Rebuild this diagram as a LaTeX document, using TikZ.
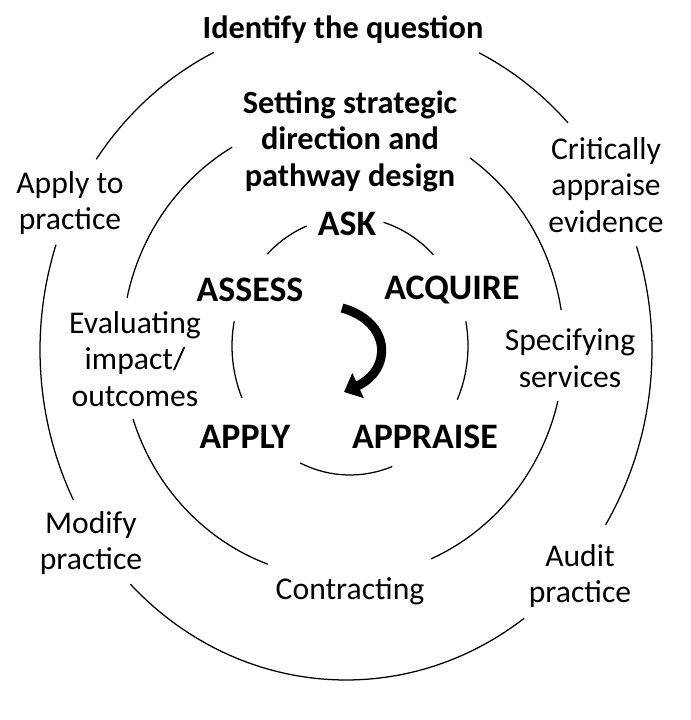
\documentclass[tikz,border=0pt]{standalone}
\usepackage{fontspec}
\setmainfont{Carlito}
\usetikzlibrary{positioning,arrows.meta,calc}
\tikzset{>=Stealth}
\tikzset{
  ring/.style={line width=0.9pt},
  lbl/.style={align=center,font=\fontsize{22.5}{26}\selectfont},
  toplbl/.style={align=center,font=\fontsize{23}{26}\selectfont\bfseries},
  stage/.style={font=\fontsize{25.5}{28}\selectfont\bfseries},
}
\begin{document}
\begin{tikzpicture}[x=0.025cm,y=-0.025cm]
\useasboundingbox (0,0) rectangle (690,720);
% outer ring
\coordinate (oc) at (346,350);
\foreach \a/\b in {115.6/144.7, 161.4/207, 225.2/305.6, 328/378.3, 43.5/64.2}
  \draw[ring] ($(oc)+({306*cos(\a)},{-330*sin(\a)})$) arc[start angle=\a,end angle=\b,x radius=306,y radius=-330];
% middle ring
\coordinate (mc) at (343,347);
\foreach \a/\b in {120.1/167.7, 198.2/250.1, 293.5/346.4, 9.2/54.9}
  \draw[ring] ($(mc)+({221*cos(\a)},{-231*sin(\a)})$) arc[start angle=\a,end angle=\b,x radius=221,y radius=-231];
% inner ring
\coordinate (ic) at (350,346);
\foreach \a/\b in {111.6/134.6, 45/73.5, -24.6/11, 245/291, 169/203.7}
  \draw[ring] ($(ic)+({118*cos(\a)},{-129*sin(\a)})$) arc[start angle=\a,end angle=\b,x radius=118,y radius=-129];
% labels
\node[toplbl] (question) at (343,30) {Identify the question};
\node[toplbl] (strategy) at (350,141) {Setting strategic\\direction and\\pathway design};
\node[lbl] (applyto) at (70,203) {Apply to\\practice};
\node[lbl] (critical) at (606,185) {Critically\\appraise\\evidence};
\node[lbl] (evaluate) at (135,359) {Evaluating\\impact/\\outcomes};
\node[lbl] (specify) at (570,358) {Specifying\\services};
\node[lbl] (modify) at (91,543) {Modify\\practice};
\node[lbl] (audit) at (580,576) {Audit\\practice};
\node[lbl] (contract) at (350,591) {Contracting};
\node[stage] (ask) at (347,224) {ASK};
\node[stage] (assess) at (250,290) {ASSESS};
\node[stage] (acquire) at (452,290) {ACQUIRE};
\node[stage] (apply) at (245,437) {APPLY};
\node[stage] (appraise) at (425,437) {APPRAISE};
% cycle arrow
\coordinate (cyclea) at (342,308);
\coordinate (cycleb) at (344,392);
\draw[line width=6.5pt,-{Triangle[length=11pt,width=19pt]}] (cyclea) .. controls (392,322) and (392,370) .. (cycleb);
\end{tikzpicture}
\end{document}
